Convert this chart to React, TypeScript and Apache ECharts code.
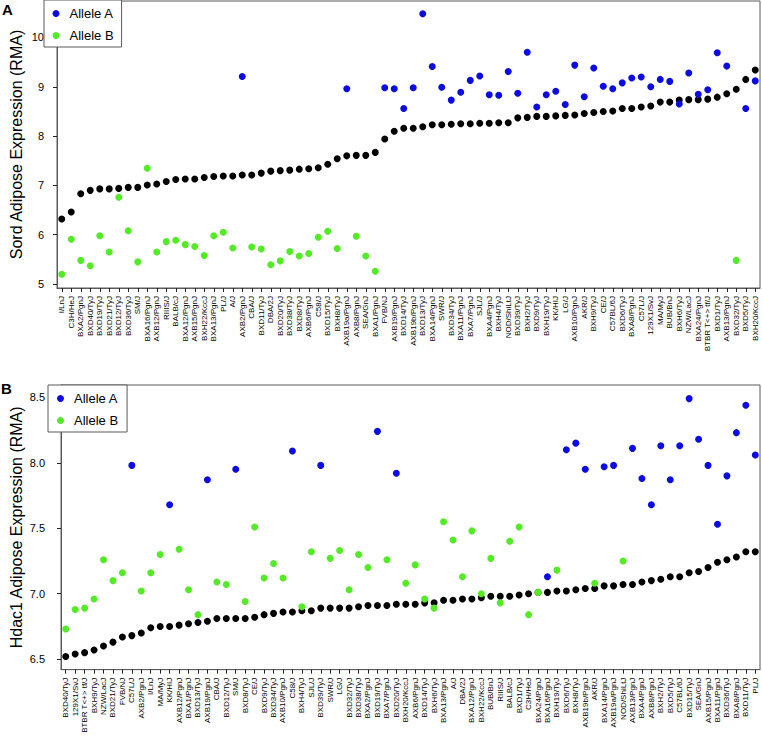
import React, { useEffect, useRef } from "react";
import * as echarts from "echarts";

// ---------- Panel A: Sord ----------
const strainsA = [
  "I/LnJ", "C3H/HeJ", "BXA2/PgnJ", "BXD40/TyJ", "BXD19/TyJ", "BXD21/TyJ", "BXD12/TyJ", "BXD36/TyJ",
  "SM/J", "BXA16/PgnJ", "AXB12/PgnJ", "RIIIS/J", "BALB/cJ", "BXA12/PgnJ", "AXB15/PgnJ", "BXH22/KccJ",
  "BXA13/PgnJ", "PL/J", "A/J", "AXB2/PgnJ", "CBA/J", "BXD11/TyJ", "DBA/2J", "BXD20/TyJ",
  "BXD38/TyJ", "BXD8/TyJ", "AXB6/PgnJ", "C58/J", "BXD15/TyJ", "BXH8/TyJ", "AXB19a/PgnJ", "AXB8/PgnJ",
  "SEA/GnJ", "BXA1/PgnJ", "FVB/NJ", "AXB19/PgnJ", "BXD14/TyJ", "AXB19b/PgnJ", "BXD13/TyJ", "BXA14/PgnJ",
  "SWR/J", "BXD34/TyJ", "BXA11/PgnJ", "BXA7/PgnJ", "SJL/J", "BXA4/PgnJ", "BXH4/TyJ", "NOD/ShiLtJ",
  "BXD39/TyJ", "BXH2/TyJ", "BXD9/TyJ", "BXH19/TyJ", "KK/HIJ", "LG/J", "AXB10/PgnJ", "AKR/J",
  "BXH9/TyJ", "CE/J", "C57BL/6J", "BXD6/TyJ", "BXA8/PgnJ", "C57L/J", "129X1/SvJ", "MA/MyJ",
  "BUB/BnJ", "BXH6/TyJ", "NZW/LacJ", "BXA24/PgnJ", "BTBR T<+> tf/J", "BXD1/TyJ", "AXB13/PgnJ", "BXD32/TyJ",
  "BXD5/TyJ", "BXH20/KccJ",
];
const baselineA = [
  6.32, 6.46, 6.83, 6.90, 6.93, 6.93, 6.94, 6.96, 6.96, 7.01, 7.03, 7.08, 7.12, 7.13, 7.13, 7.16,
  7.18, 7.19, 7.19, 7.21, 7.21, 7.25, 7.29, 7.30, 7.31, 7.33, 7.34, 7.36, 7.43, 7.54, 7.60, 7.61,
  7.61, 7.67, 7.94, 8.10, 8.16, 8.16, 8.19, 8.23, 8.23, 8.24, 8.25, 8.25, 8.26, 8.26, 8.27, 8.27,
  8.37, 8.38, 8.40, 8.40, 8.41, 8.42, 8.43, 8.46, 8.48, 8.50, 8.51, 8.56, 8.56, 8.59, 8.61, 8.69,
  8.69, 8.73, 8.74, 8.74, 8.75, 8.79, 8.86, 8.95, 9.15, 9.34,
];
const valuesA = [
  5.20, 5.91, 5.48, 5.37, 5.98, 5.65, 6.76, 6.08, 5.45, 7.35, 5.65, 5.86, 5.89, 5.80, 5.76, 5.58,
  5.98, 6.05, 5.73, 9.21, 5.75, 5.71, 5.39, 5.47, 5.66, 5.57, 5.62, 5.95, 6.07, 5.72, 8.96, 5.97,
  5.57, 5.26, 8.98, 8.96, 8.56, 8.98, 10.48, 9.41, 8.99, 8.73, 8.89, 9.13, 9.22, 8.84, 8.83, 9.31,
  8.87, 9.70, 8.59, 8.84, 8.91, 8.64, 9.44, 8.80, 9.38, 9.01, 8.96, 9.08, 9.18, 9.20, 9.00, 9.15,
  9.11, 8.65, 9.28, 8.85, 8.94, 9.69, 9.42, 5.48, 8.56, 9.12,
];
const allelesA = [
  "B", "B", "B", "B", "B", "B", "B", "B", "B", "B", "B", "B", "B", "B", "B", "B",
  "B", "B", "B", "A", "B", "B", "B", "B", "B", "B", "B", "B", "B", "B", "A", "B",
  "B", "B", "A", "A", "A", "A", "A", "A", "A", "A", "A", "A", "A", "A", "A", "A",
  "A", "A", "A", "A", "A", "A", "A", "A", "A", "A", "A", "A", "A", "A", "A", "A",
  "A", "A", "A", "A", "A", "A", "A", "B", "A", "A",
];
const ticksA = [5, 6, 7, 8, 9, 10];

// ---------- Panel B: Hdac1 ----------
const strainsB = [
  "BXD40/TyJ", "129X1/SvJ", "BTBR T<+> tf/J", "BXH9/TyJ", "NZW/LacJ", "BXD21/TyJ", "FVB/NJ", "C57L/J",
  "AXB2/PgnJ", "I/LnJ", "MA/MyJ", "KK/HIJ", "AXB12/PgnJ", "BXA1/PgnJ", "BXD13/TyJ", "AXB19/PgnJ",
  "CBA/J", "BXD12/TyJ", "SM/J", "BXD8/TyJ", "CE/J", "BXD9/TyJ", "BXD34/TyJ", "AXB10/PgnJ",
  "C58/J", "BXH4/TyJ", "SJL/J", "BXD39/TyJ", "SWR/J", "LG/J", "BXD32/TyJ", "BXD38/TyJ",
  "BXA2/PgnJ", "BXD19/TyJ", "BXA7/PgnJ", "BXD20/TyJ", "BXH20/KccJ", "AXB6/PgnJ", "BXD14/TyJ", "BXH6/TyJ",
  "BXA13/PgnJ", "A/J", "DBA/2J", "BXA12/PgnJ", "BXH22/KccJ", "BUB/BnJ", "RIIIS/J", "BALB/cJ",
  "BXD1/TyJ", "C3H/HeJ", "BXA24/PgnJ", "BXA16/PgnJ", "BXH19/TyJ", "BXD6/TyJ", "BXH8/TyJ", "AXB19b/PgnJ",
  "AKR/J", "BXA14/PgnJ", "AXB19a/PgnJ", "NOD/ShiLtJ", "AXB13/PgnJ", "BXA4/PgnJ", "AXB8/PgnJ", "BXH2/TyJ",
  "BXD5/TyJ", "C57BL/6J", "BXD15/TyJ", "SEA/GnJ", "AXB15/PgnJ", "BXA11/PgnJ", "BXD36/TyJ", "BXA8/PgnJ",
  "BXD11/TyJ", "PL/J",
];
const baselineB = [
  6.52, 6.54, 6.55, 6.57, 6.60, 6.63, 6.67, 6.68, 6.70, 6.74, 6.75, 6.75, 6.76, 6.77, 6.78, 6.79,
  6.81, 6.81, 6.81, 6.81, 6.82, 6.84, 6.85, 6.86, 6.86, 6.87, 6.87, 6.89, 6.89, 6.89, 6.89, 6.90,
  6.91, 6.91, 6.91, 6.92, 6.92, 6.92, 6.93, 6.93, 6.95, 6.95, 6.96, 6.96, 6.97, 6.98, 6.98, 6.98,
  6.99, 7.00, 7.01, 7.01, 7.02, 7.02, 7.03, 7.04, 7.04, 7.06, 7.06, 7.07, 7.07, 7.09, 7.10, 7.11,
  7.13, 7.13, 7.16, 7.17, 7.20, 7.24, 7.26, 7.28, 7.32, 7.32,
];
const valuesB = [
  6.73, 6.88, 6.89, 6.96, 7.26, 7.10, 7.16, 7.98, 7.02, 7.16, 7.30, 7.68, 7.34, 7.03, 6.84, 7.87,
  7.09, 7.07, 7.95, 6.94, 7.51, 7.12, 7.23, 7.12, 8.09, 6.90, 7.32, 7.98, 7.27, 7.33, 7.03, 7.30,
  7.20, 8.24, 7.26, 7.92, 7.08, 7.22, 6.96, 6.89, 7.55, 7.41, 7.13, 7.48, 7.00, 7.27, 6.93, 7.40,
  7.51, 6.84, 7.01, 7.13, 7.18, 8.10, 8.15, 7.95, 7.08, 7.97, 7.98, 7.25, 8.11, 7.88, 7.68, 8.13,
  7.87, 8.13, 8.49, 8.18, 7.98, 7.53, 7.90, 8.23, 8.44, 8.06,
];
const allelesB = [
  "B", "B", "B", "B", "B", "B", "B", "A", "B", "B", "B", "A", "B", "B", "B", "A",
  "B", "B", "A", "B", "B", "B", "B", "B", "A", "B", "B", "A", "B", "B", "B", "B",
  "B", "A", "B", "A", "B", "B", "B", "B", "B", "B", "B", "B", "B", "B", "B", "B",
  "B", "B", "B", "A", "B", "A", "A", "A", "B", "A", "A", "B", "A", "A", "A", "A",
  "A", "A", "A", "A", "A", "A", "A", "A", "A", "A",
];
const ticksB = [6.5, 7.0, 7.5, 8.0, 8.5];

const legendNames = ["Allele A", "Allele B"];

const FONT = "'Liberation Sans', Arial, Helvetica, sans-serif";
const BLUE = "#0c0ce2";
const GREEN = "#52eb26";
const FRAME = "#5a5a5a";

function pick(values: number[], alleles: string[], which: string) {
  return values.map((v, i) => (alleles[i] === which ? v : "-"));
}

function xAxisFor(grid: number, data: string[]) {
  return {
    gridIndex: grid,
    type: "category",
    data,
    boundaryGap: true,
    axisLine: { show: true, lineStyle: { color: FRAME, width: 1 } },
    axisTick: { show: true, alignWithLabel: true, interval: 0, length: 4, lineStyle: { color: "#222" } },
    axisLabel: { interval: 0, rotate: 90, fontSize: 8, margin: 8, color: "#000", fontFamily: FONT },
    splitLine: { show: false },
  };
}

function yAxisFor(grid: number, min: number, max: number, ticks: number[], name: string, gap: number, margin: number, digits: number) {
  return {
    gridIndex: grid,
    type: "value",
    min,
    max,
    name,
    nameLocation: "middle",
    nameGap: gap,
    nameRotate: 90,
    nameMoveOverlap: false,
    nameTextStyle: { fontSize: 16, color: "#000", fontFamily: FONT },
    axisLine: { show: true, lineStyle: { color: FRAME, width: 1 } },
    axisTick: { show: true, length: 4, customValues: ticks, lineStyle: { color: "#222" } },
    axisLabel: {
      customValues: ticks,
      fontSize: 11,
      margin,
      color: "#000",
      fontFamily: FONT,
      formatter: (v: number) => v.toFixed(digits),
    },
    splitLine: { show: false },
  };
}

function legendFor(left: number, top: number, pad: number[]) {
  return {
    data: legendNames,
    orient: "vertical",
    left,
    top,
    icon: "circle",
    itemWidth: 7,
    itemHeight: 7,
    itemGap: 9,
    padding: pad,
    borderColor: FRAME,
    borderWidth: 1,
    backgroundColor: "#fff",
    selectedMode: false,
    textStyle: { fontSize: 13, color: "#000", fontFamily: FONT, padding: [0, 0, 0, 5] },
  };
}

function scatter(name: string, grid: number, data: any[], color: string) {
  return {
    name,
    type: "scatter",
    xAxisIndex: grid,
    yAxisIndex: grid,
    data,
    symbol: "circle",
    symbolSize: 7,
    itemStyle: { color, opacity: 1 },
    emphasis: { disabled: true },
  };
}

export default function App() {
  const ref = useRef<HTMLDivElement>(null);
  useEffect(() => {
    if (!ref.current) return;
    const chart = echarts.init(ref.current, null, { renderer: "svg" });
    const option = {
      animation: false,
      backgroundColor: "#fff",
      textStyle: { fontFamily: FONT },
      grid: [
        { left: 44, top: 1, width: 716, height: 287, show: true, borderColor: FRAME, borderWidth: 1, backgroundColor: "transparent" },
        { left: 48, top: 385, width: 712, height: 286, show: true, borderColor: FRAME, borderWidth: 1, backgroundColor: "transparent" },
      ],
      xAxis: [xAxisFor(0, strainsA), xAxisFor(1, strainsB)],
      yAxis: [
        yAxisFor(0, 4.92, 10.74, ticksA, "Sord Adipose Expression (RMA)", 33, 13, 0),
        yAxisFor(1, 6.42, 8.594, ticksB, "Hdac1 Adipose Expression (RMA)", 37, 16, 1),
      ],
      legend: [legendFor(44, 0, [7, 8, 5, 8.5]), legendFor(48, 385, [7, 9, 5, 9])],
      series: [
        scatter("Baseline A", 0, baselineA, "#000"),
        scatter("Allele A", 0, pick(valuesA, allelesA, "A"), BLUE),
        scatter("Allele B", 0, pick(valuesA, allelesA, "B"), GREEN),
        scatter("Baseline B", 1, baselineB, "#000"),
        scatter("Allele A", 1, pick(valuesB, allelesB, "A"), BLUE),
        scatter("Allele B", 1, pick(valuesB, allelesB, "B"), GREEN),
      ],
      graphic: [
        { type: "text", left: 2, top: 2, style: { text: "A", font: `bold 15px ${FONT}`, fill: "#000" } },
        { type: "text", left: 1, top: 381, style: { text: "B", font: `bold 15px ${FONT}`, fill: "#000" } },
      ],
    };
    chart.setOption(option as any);
    return () => chart.dispose();
  }, []);
  return (
    <div
      ref={ref}
      style={{ position: "fixed", left: 0, top: 0, width: 762, height: 736, background: "#fff" }}
    />
  );
}
